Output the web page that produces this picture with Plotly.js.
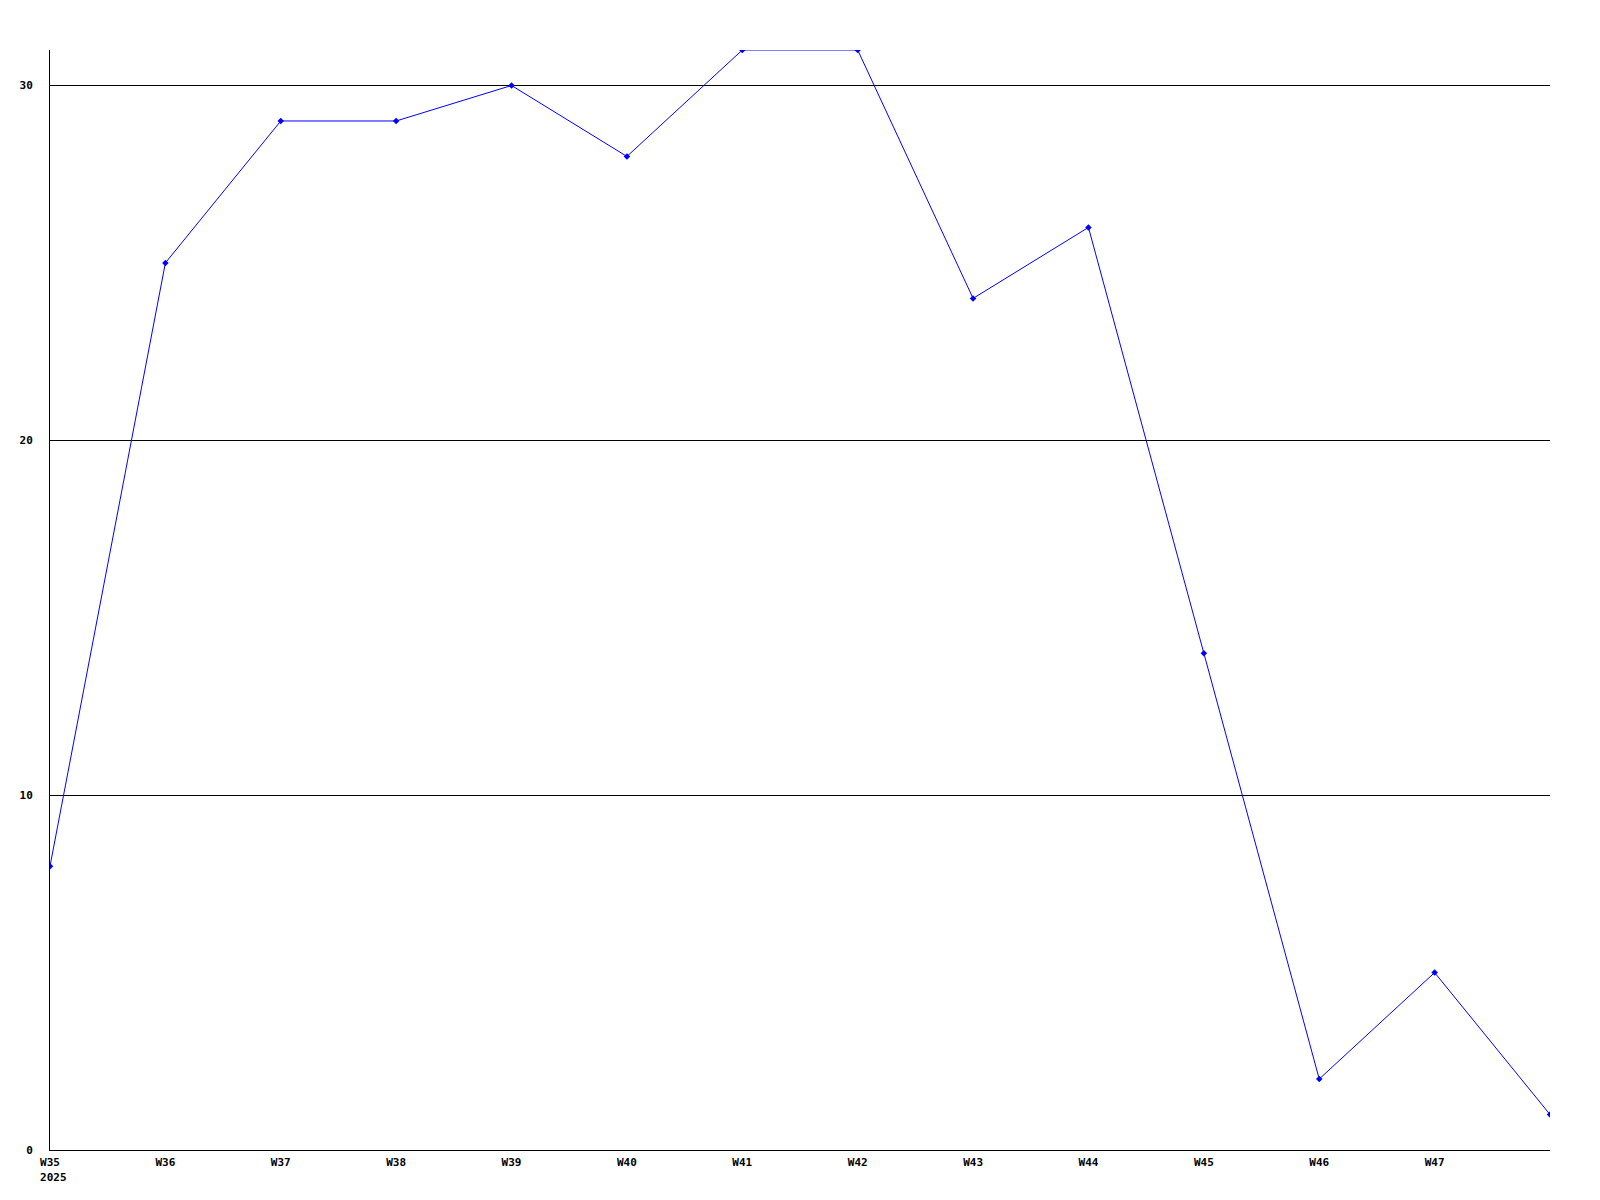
<!DOCTYPE html>
<html>
<head>
<meta charset="utf-8">
<script src="https://cdn.plot.ly/plotly-3.0.1.min.js"></script>
<style>html,body{margin:0;padding:0;background:#fff;}#chart{width:1600px;height:1200px;}</style>
</head>
<body>
<div id="chart"></div>
<script>
const weeks = ["W35","W36","W37","W38","W39","W40","W41","W42","W43","W44","W45","W46","W47","W48"];
const values = [8,25,29,29,30,28,31,31,24,26,14,2,5,1];
const tickWeeks = ["W35","W36","W37","W38","W39","W40","W41","W42","W43","W44","W45","W46","W47"];
const tickLabels = ["W35<br>\u00a02025","W36","W37","W38","W39","W40","W41","W42","W43","W44","W45","W46","W47"];
const yTicks = [0,10,20,30];

const font = {family: "DejaVu Sans Mono, monospace", size: 11, color: "#000", weight: "bold"};

Plotly.newPlot("chart", [{
  x: weeks,
  y: values,
  type: "scatter",
  mode: "lines+markers",
  line: {color: "#0000ff", width: 1},
  marker: {color: "#0000ff", size: 5, symbol: "diamond"},
  hoverinfo: "x+y"
}], {
  width: 1600,
  height: 1200,
  margin: {l: 50, r: 50, t: 50, b: 50, pad: 0},
  paper_bgcolor: "#fff",
  plot_bgcolor: "#fff",
  showlegend: false,
  font: font,
  xaxis: {
    type: "category",
    range: [0, 13],
    tickmode: "array",
    tickvals: tickWeeks,
    ticktext: tickLabels,
    showgrid: false,
    zeroline: false,
    showline: true,
    linecolor: "#000",
    linewidth: 1,
    ticks: "",
    ticklabelstandoff: 2,
    tickfont: font
  },
  yaxis: {
    range: [0, 31],
    tickmode: "array",
    tickvals: yTicks,
    ticktext: yTicks.map(String),
    showgrid: true,
    gridcolor: "#000",
    gridwidth: 1,
    zeroline: false,
    showline: true,
    linecolor: "#000",
    linewidth: 1,
    ticks: "",
    ticklabelstandoff: 14,
    tickfont: font
  }
}, {staticPlot: true});
</script>
</body>
</html>
